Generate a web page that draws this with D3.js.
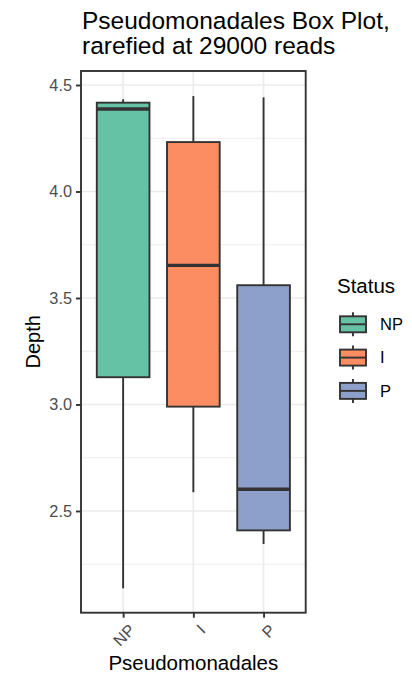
<!DOCTYPE html>
<html>
<head>
<meta charset="utf-8">
<script src="https://cdn.jsdelivr.net/npm/d3@7/dist/d3.min.js"></script>
<style>
  html, body { margin: 0; padding: 0; background: #fff; }
  svg { display: block; font-family: "Liberation Sans", Arial, Helvetica, sans-serif; }
</style>
</head>
<body>
<svg id="chart" width="412" height="677"></svg>
<script>
// Box plot statistics per status group
const categories = ["NP", "I", "P"];
const whiskerLow = [2.137, 2.588, 2.345];
const q1 = [3.128, 2.990, 2.409];
const median = [4.387, 3.653, 2.602];
const q3 = [4.417, 4.232, 3.560];
const whiskerHigh = [4.433, 4.448, 4.442];
const colors = ["#66C2A5", "#FC8D62", "#8DA0CB"];
const yTicks = [2.5, 3.0, 3.5, 4.0, 4.5];
const yMinor = [2.25, 2.75, 3.25, 3.75, 4.25];

const boxes = categories.map((c, i) => ({
  cat: c, lo: whiskerLow[i], q1: q1[i], med: median[i], q3: q3[i], hi: whiskerHigh[i], color: colors[i]
}));

const svg = d3.select("#chart");
const panel = { left: 81, right: 305.7, top: 71, bottom: 612.7 };
const ink = "#333333";
const lw = 1.9;

const x = d3.scalePoint().domain(categories).range([panel.left, panel.right]).padding(0.6);
const y = d3.scaleLinear().domain([2.0225, 4.5657]).range([panel.bottom, panel.top]);
const boxW = x.step() * 0.75;

svg.append("rect").attr("width", 412).attr("height", 677).attr("fill", "#fff");

// grid
const grid = svg.append("g");
grid.selectAll(".minor").data(yMinor).join("line")
  .attr("x1", panel.left).attr("x2", panel.right)
  .attr("y1", d => y(d)).attr("y2", d => y(d))
  .attr("stroke", "#EBEBEB").attr("stroke-width", 0.9);
grid.selectAll(".major").data(yTicks).join("line")
  .attr("x1", panel.left).attr("x2", panel.right)
  .attr("y1", d => y(d)).attr("y2", d => y(d))
  .attr("stroke", "#EBEBEB").attr("stroke-width", 1.6);
grid.selectAll(".vmajor").data(categories).join("line")
  .attr("x1", d => x(d)).attr("x2", d => x(d))
  .attr("y1", panel.top).attr("y2", panel.bottom)
  .attr("stroke", "#EBEBEB").attr("stroke-width", 1.6);

// boxes
const g = svg.append("g");
const bx = g.selectAll("g.box").data(boxes).join("g");
bx.append("line")
  .attr("x1", d => x(d.cat)).attr("x2", d => x(d.cat))
  .attr("y1", d => y(d.q3)).attr("y2", d => y(d.hi))
  .attr("stroke", ink).attr("stroke-width", lw);
bx.append("line")
  .attr("x1", d => x(d.cat)).attr("x2", d => x(d.cat))
  .attr("y1", d => y(d.q1)).attr("y2", d => y(d.lo))
  .attr("stroke", ink).attr("stroke-width", lw);
bx.append("rect")
  .attr("x", d => x(d.cat) - boxW / 2).attr("width", boxW)
  .attr("y", d => y(d.q3)).attr("height", d => y(d.q1) - y(d.q3))
  .attr("fill", d => d.color).attr("stroke", ink).attr("stroke-width", lw);
bx.append("line")
  .attr("x1", d => x(d.cat) - boxW / 2).attr("x2", d => x(d.cat) + boxW / 2)
  .attr("y1", d => y(d.med)).attr("y2", d => y(d.med))
  .attr("stroke", ink).attr("stroke-width", lw * 1.8);

// panel border
svg.append("rect")
  .attr("x", panel.left).attr("y", panel.top)
  .attr("width", panel.right - panel.left).attr("height", panel.bottom - panel.top)
  .attr("fill", "none").attr("stroke", ink).attr("stroke-width", lw);

// y axis
const yAxis = svg.append("g").attr("transform", `translate(${panel.left},0)`)
  .call(d3.axisLeft(y).tickValues(yTicks).tickFormat(d3.format(".1f")).tickSize(5).tickPadding(4));
yAxis.select(".domain").remove();
yAxis.selectAll(".tick line").attr("stroke", ink).attr("stroke-width", lw);
yAxis.selectAll(".tick text").attr("fill", "#4D4D4D").attr("font-size", 16.3)
  .attr("font-family", "Liberation Sans, Arial, sans-serif");

// x axis
const xAxis = svg.append("g").attr("transform", `translate(0,${panel.bottom})`)
  .call(d3.axisBottom(x).tickSize(5).tickFormat(d => d));
xAxis.select(".domain").remove();
xAxis.selectAll(".tick line").attr("stroke", ink).attr("stroke-width", lw);
xAxis.selectAll(".tick text")
  .attr("fill", "#4D4D4D").attr("font-size", 16.3)
  .attr("font-family", "Liberation Sans, Arial, sans-serif")
  .attr("text-anchor", "end")
  .attr("dy", null).attr("y", null)
  .attr("transform", "translate(4,10) rotate(-45)")
  .attr("dominant-baseline", "hanging");

// axis titles
svg.append("text").attr("x", (panel.left + panel.right) / 2).attr("y", 670)
  .attr("text-anchor", "middle").attr("font-size", 20.5).attr("fill", "#000")
  .text("Pseudomonadales");
svg.append("text")
  .attr("transform", `translate(40,${(panel.top + panel.bottom) / 2}) rotate(-90)`)
  .attr("text-anchor", "middle").attr("font-size", 20).attr("fill", "#000")
  .text("Depth");

// title
const title = svg.append("text").attr("font-size", 24.5).attr("fill", "#000");
title.append("tspan").attr("x", panel.left + 1).attr("y", 29).text("Pseudomonadales Box Plot,");
title.append("tspan").attr("x", panel.left + 1).attr("y", 54).text("rarefied at 29000 reads");

// legend
const legend = svg.append("g");
legend.append("text").attr("x", 337).attr("y", 293).attr("font-size", 20.5).attr("fill", "#000").text("Status");
const keyX = 340, keyW = 26, keyH = 16, keyStep = 33.3, keyY0 = 324.3;
const item = legend.selectAll("g.item").data(boxes).join("g")
  .attr("transform", (d, i) => `translate(${keyX},${keyY0 + i * keyStep})`);
item.append("line").attr("x1", keyW / 2).attr("x2", keyW / 2).attr("y1", -12).attr("y2", 12)
  .attr("stroke", ink).attr("stroke-width", lw);
item.append("rect").attr("x", 0).attr("y", -keyH / 2).attr("width", keyW).attr("height", keyH)
  .attr("fill", d => d.color).attr("stroke", ink).attr("stroke-width", lw);
item.append("line").attr("x1", 0).attr("x2", keyW).attr("y1", 0).attr("y2", 0)
  .attr("stroke", ink).attr("stroke-width", lw);
item.append("text").attr("x", 40).attr("y", 0).attr("dy", "0.35em")
  .attr("font-size", 16.5).attr("fill", "#000").text(d => d.cat);
</script>
</body>
</html>
